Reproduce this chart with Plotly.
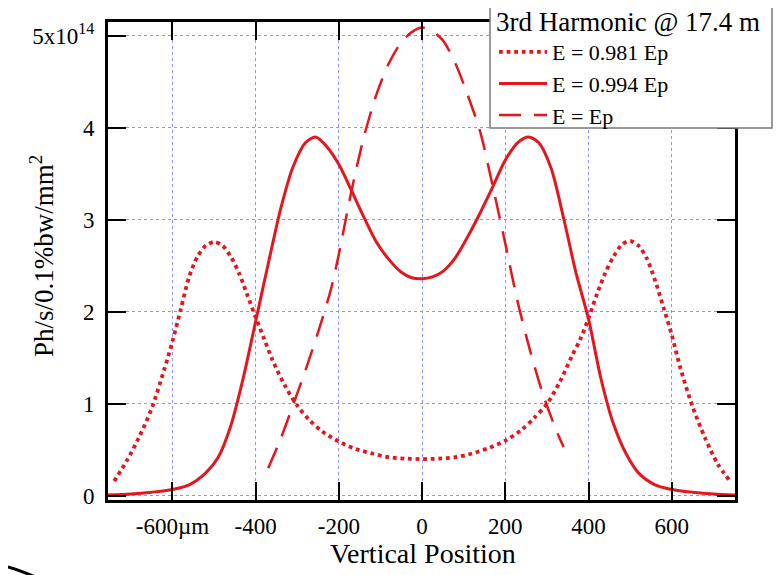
import plotly.graph_objects as go

# ---------------- data ----------------
x_tick_vals = [-600, -400, -200, 0, 200, 400, 600]
x_tick_text = ["-600µm", "-400", "-200", "0", "200", "400", "600"]
y_tick_vals = [0, 1, 2, 3, 4, 5]
y_tick_text = ["0", "1", "2", "3", "4", "5x10<sup>14</sup>"]

legend_title = "3rd Harmonic @ 17.4 m"
series_names = ["E = 0.981 Ep", "E = 0.994 Ep", "E = Ep"]

# E = 0.981 Ep (dotted)
x_981 = [-740, -710, -680, -650, -620, -600, -580, -560, -540, -520, -500, -480,
         -460, -440, -420, -400, -380, -360, -330, -300, -270, -240, -200, -160,
         -120, -80, -40, 0, 40, 80, 120, 160, 200, 240, 270, 300, 330, 360, 380,
         400, 420, 440, 460, 480, 500, 520, 540, 560, 580, 600, 620, 650, 680,
         710, 740]
y_981 = [0.16, 0.38, 0.64, 0.95, 1.37, 1.68, 2.03, 2.38, 2.60, 2.72, 2.76, 2.72,
         2.60, 2.42, 2.18, 1.94, 1.71, 1.48, 1.20, 0.98, 0.82, 0.70, 0.59, 0.51,
         0.46, 0.42, 0.405, 0.40, 0.405, 0.42, 0.46, 0.52, 0.60, 0.72, 0.85, 1.00,
         1.23, 1.52, 1.70, 1.93, 2.19, 2.42, 2.60, 2.73, 2.77, 2.72, 2.58, 2.34,
         2.05, 1.75, 1.40, 0.97, 0.63, 0.35, 0.16]

# E = 0.994 Ep (solid)
x_994 = [-755, -700, -650, -600, -560, -520, -490, -460, -430, -400, -370, -340,
         -310, -280, -256, -230, -200, -170, -140, -110, -80, -50, -25, 0, 25, 50,
         80, 110, 140, 170, 200, 230, 256, 280, 310, 340, 370, 400, 430, 460, 490,
         520, 560, 600, 650, 700, 752]
y_994 = [0.01, 0.02, 0.04, 0.07, 0.12, 0.25, 0.42, 0.76, 1.28, 1.90, 2.52, 3.12,
         3.58, 3.84, 3.90, 3.80, 3.60, 3.32, 3.03, 2.76, 2.57, 2.43, 2.37, 2.36,
         2.38, 2.44, 2.59, 2.82, 3.08, 3.36, 3.65, 3.84, 3.90, 3.84, 3.56, 3.02,
         2.42, 1.92, 1.27, 0.78, 0.46, 0.25, 0.12, 0.07, 0.04, 0.02, 0.01]

# E = Ep (dashed)
x_ep = [-370, -340, -310, -280, -250, -220, -200, -170, -140, -110, -80, -50, -25,
        0, 25, 50, 80, 110, 140, 170, 200, 230, 260, 290, 320, 340]
y_ep = [0.30, 0.62, 0.99, 1.37, 1.78, 2.23, 2.63, 3.31, 3.90, 4.36, 4.70, 4.93,
        5.04, 5.09, 5.05, 4.95, 4.70, 4.35, 3.95, 3.36, 2.74, 2.10, 1.57, 1.11,
        0.74, 0.53]

# ---------------- styling ----------------
RED = "rgb(228,22,30)"
FONT = "Liberation Serif"
GRID = "rgb(145,145,250)"

fig = go.Figure()
fig.add_trace(go.Scatter(x=x_981, y=y_981, mode="lines", name=series_names[0],
                         line=dict(color=RED, width=3.8, dash="dot", shape="spline", smoothing=0.8)))
fig.add_trace(go.Scatter(x=x_994, y=y_994, mode="lines", name=series_names[1],
                         line=dict(color=RED, width=3, shape="spline", smoothing=0.8)))
fig.add_trace(go.Scatter(x=x_ep, y=y_ep, mode="lines", name=series_names[2],
                         line=dict(color=RED, width=2.5, dash="22px,13px", shape="spline", smoothing=0.8)))

axis_common = dict(
    showline=True, linecolor="black", linewidth=3, mirror="ticks",
    ticks="inside", ticklen=18, tickwidth=2, tickcolor="black",
    showgrid=True, gridcolor=GRID, gridwidth=1, griddash="dot",
    zeroline=False,
    tickfont=dict(family=FONT, size=23, color="black"),
)

fig.update_xaxes(range=[-755, 752], tickmode="array", tickvals=x_tick_vals,
                 ticktext=x_tick_text, ticklabelstandoff=3, **axis_common)
fig.update_yaxes(range=[-0.045, 5.15], tickmode="array", tickvals=y_tick_vals,
                 ticktext=y_tick_text, ticklabelstandoff=6, **axis_common)

# The page body has an 8 px margin, so the figure is sized to fit the window
# and page positions are shifted by OFF.
OFF = 8
W, H = 781 - OFF, 575 - OFF
ML, MT = 108 - OFF, 22 - OFF
PLOT_R, PLOT_B = 735 - OFF, 500 - OFF
MR, MB = W - PLOT_R, H - PLOT_B
PW, PH = PLOT_R - ML, PLOT_B - MT


def px(x):  # page pixel -> paper fraction
    return (x - OFF - ML) / PW


def py(y):
    return (PLOT_B - (y - OFF)) / PH


shapes = [
    # legend box (white, covers the frame behind it)
    dict(type="rect", xref="paper", yref="paper", layer="above",
         x0=px(490), x1=px(772), y0=py(128), y1=py(3),
         fillcolor="white", line=dict(color="rgb(120,120,120)", width=1.5)),
    # slide decoration remnant (bottom-left stroke)
    dict(type="path", xref="paper", yref="paper", layer="above",
         path=f"M {px(4)},{py(566)} Q {px(20)},{py(570)} {px(40)},{py(579)}",
         line=dict(color="black", width=3)),
]

annotations = [
    dict(text="Vertical Position", xref="paper", yref="paper",
         x=px(423), y=py(553), xanchor="center", yanchor="middle", showarrow=False,
         font=dict(family=FONT, size=28, color="black")),
    dict(text="Ph/s/0.1%bw/mm<sup>2</sup>", xref="paper", yref="paper",
         x=px(42), y=py(256), xanchor="center", yanchor="middle", showarrow=False,
         textangle=-90, font=dict(family=FONT, size=27, color="black")),
]

fig.update_layout(
    width=W, height=H,
    margin=dict(l=ML, r=MR, t=MT, b=MB, autoexpand=False),
    paper_bgcolor="white", plot_bgcolor="white",
    showlegend=True,
    legend=dict(
        x=px(494), y=py(-4), xanchor="left", yanchor="top",
        bgcolor="rgba(0,0,0,0)", borderwidth=0,
        title=dict(text=legend_title, font=dict(family=FONT, size=27, color="black")),
        font=dict(family=FONT, size=22, color="black"),
        itemwidth=48, tracegroupgap=0,
    ),
    shapes=shapes,
    annotations=annotations,
)

fig.write_html("out.html")
